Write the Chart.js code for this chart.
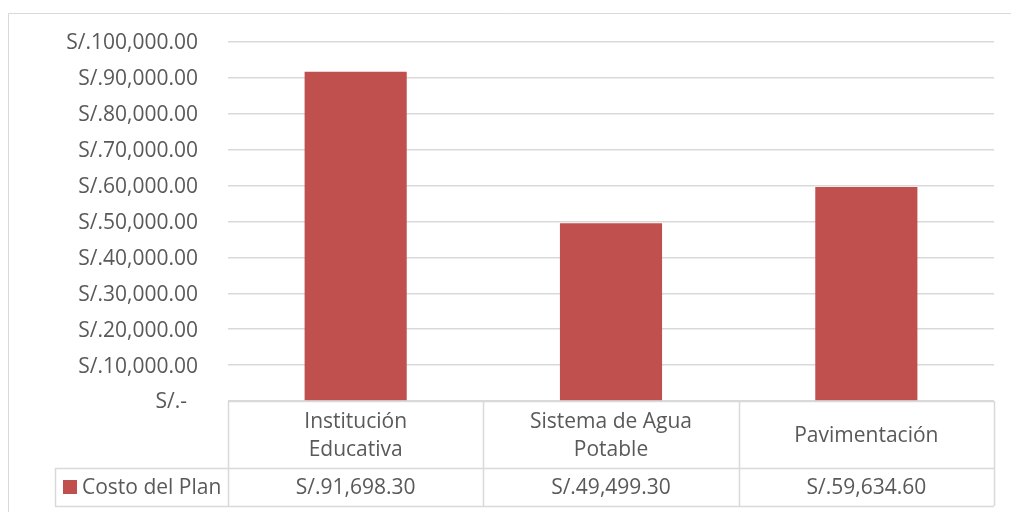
<!DOCTYPE html>
<html>
<head>
<meta charset="utf-8">
<script src="https://cdn.jsdelivr.net/npm/chart.js@4.4.1/dist/chart.umd.min.js"></script>
<style>
  html, body { margin: 0; padding: 0; background: #fff; }
  #wrap { width: 1011px; height: 512px; position: relative; }
</style>
</head>
<body>
<div id="wrap"><canvas id="chart" width="1011" height="512"></canvas></div>
<script>
const categories = [["Institución", "Educativa"], ["Sistema de Agua", "Potable"], ["Pavimentación"]];
const seriesName = "Costo del Plan";
const costs = [91698.30, 49499.30, 59634.60];
const yMin = 0;
const yMax = 100000;
const yStep = 10000;

const TEXT = "#595959";
const LINE = "#D9D9D9";
const BAR = "#C0504D";
const FONT = "'Open Sans', sans-serif";
const FONT_SIZE = 21;

function money(v) {
  if (v === 0) return "S/.-  ";
  return "S/." + v.toLocaleString("en-US", { minimumFractionDigits: 2, maximumFractionDigits: 2 });
}

// outer frame + data table under the plot
const dataTable = {
  id: "dataTable",
  afterLayout(chart) {
    // nudge y tick labels a touch lower, Open Sans sits high on "middle"
    const y = chart.scales.y;
    if (y._nudged) return;
    const orig = y.drawLabels;
    y.drawLabels = function (area) {
      this.ctx.save();
      this.ctx.translate(0, 1.5);
      orig.call(this, area);
      this.ctx.restore();
    };
    y._nudged = true;
  },
  beforeDraw(chart) {
    const ctx = chart.ctx;
    ctx.save();
    ctx.strokeStyle = LINE;
    ctx.lineWidth = 1;
    ctx.beginPath();
    ctx.moveTo(8.5, 520);
    ctx.lineTo(8.5, 13.5);
    ctx.lineTo(1020, 13.5);
    ctx.stroke();
    ctx.restore();
  },
  afterDatasetsDraw(chart) {
    const ctx = chart.ctx;
    const area = chart.chartArea;
    const x = chart.scales.x;
    const top = area.bottom;
    const mid = top + 67;
    const bot = mid + 38;
    const legendLeft = 55;

    const edges = [area.left];
    for (let i = 0; i < categories.length - 1; i++) {
      edges.push((x.getPixelForValue(i) + x.getPixelForValue(i + 1)) / 2);
    }
    edges.push(area.right);

    ctx.save();
    ctx.strokeStyle = LINE;
    ctx.lineWidth = 1.5;
    ctx.beginPath();
    ctx.moveTo(area.left, top + 0.5); ctx.lineTo(area.right, top + 0.5);
    ctx.moveTo(legendLeft, mid + 0.5); ctx.lineTo(area.right, mid + 0.5);
    ctx.moveTo(legendLeft, bot + 0.5); ctx.lineTo(area.right, bot + 0.5);
    ctx.moveTo(legendLeft + 0.5, mid); ctx.lineTo(legendLeft + 0.5, bot);
    edges.forEach(e => {
      ctx.moveTo(Math.round(e) + 0.5, top); ctx.lineTo(Math.round(e) + 0.5, bot);
    });
    ctx.stroke();

    ctx.fillStyle = TEXT;
    ctx.font = FONT_SIZE + "px " + FONT;
    ctx.textAlign = "center";
    ctx.textBaseline = "middle";
    const headMid = (top + mid) / 2 + 2;
    const valMid = (mid + bot) / 2 + 1.5;
    categories.forEach((lines, i) => {
      const cx = x.getPixelForValue(i);
      const lh = 28;
      const y0 = headMid - (lines.length - 1) * lh / 2;
      lines.forEach((t, j) => ctx.fillText(t, cx, y0 + j * lh));
      ctx.fillText(money(costs[i]), cx, valMid);
    });

    ctx.fillStyle = BAR;
    ctx.fillRect(63, 480, 14, 14);
    ctx.fillStyle = TEXT;
    ctx.textAlign = "left";
    ctx.fillText(seriesName, 82, valMid);
    ctx.restore();
  }
};

new Chart(document.getElementById("chart"), {
  type: "bar",
  data: {
    labels: categories,
    datasets: [{
      label: seriesName,
      data: costs,
      backgroundColor: BAR,
      borderWidth: 0,
      barPercentage: 0.4,
      categoryPercentage: 1
    }]
  },
  options: {
    responsive: false,
    animation: false,
    layout: { padding: { top: 42, left: 0, right: 17, bottom: 0 } },
    plugins: { legend: { display: false }, tooltip: { enabled: false } },
    scales: {
      x: {
        ticks: { display: false },
        grid: { display: false },
        border: { display: false },
        afterFit(scale) {
          scale.height = 111;
          scale.paddingLeft = 0;
          scale.paddingRight = 0;
        }
      },
      y: {
        min: yMin,
        max: yMax,
        ticks: {
          stepSize: yStep,
          padding: 30,
          color: TEXT,
          font: { family: FONT, size: FONT_SIZE },
          callback: v => money(v)
        },
        grid: { color: LINE, lineWidth: 1.5, drawTicks: false },
        border: { display: false },
        afterFit(scale) {
          scale.width = 228;
          scale.paddingTop = 0;
          scale.paddingBottom = 0;
        }
      }
    }
  },
  plugins: [dataTable]
});
</script>
</body>
</html>
